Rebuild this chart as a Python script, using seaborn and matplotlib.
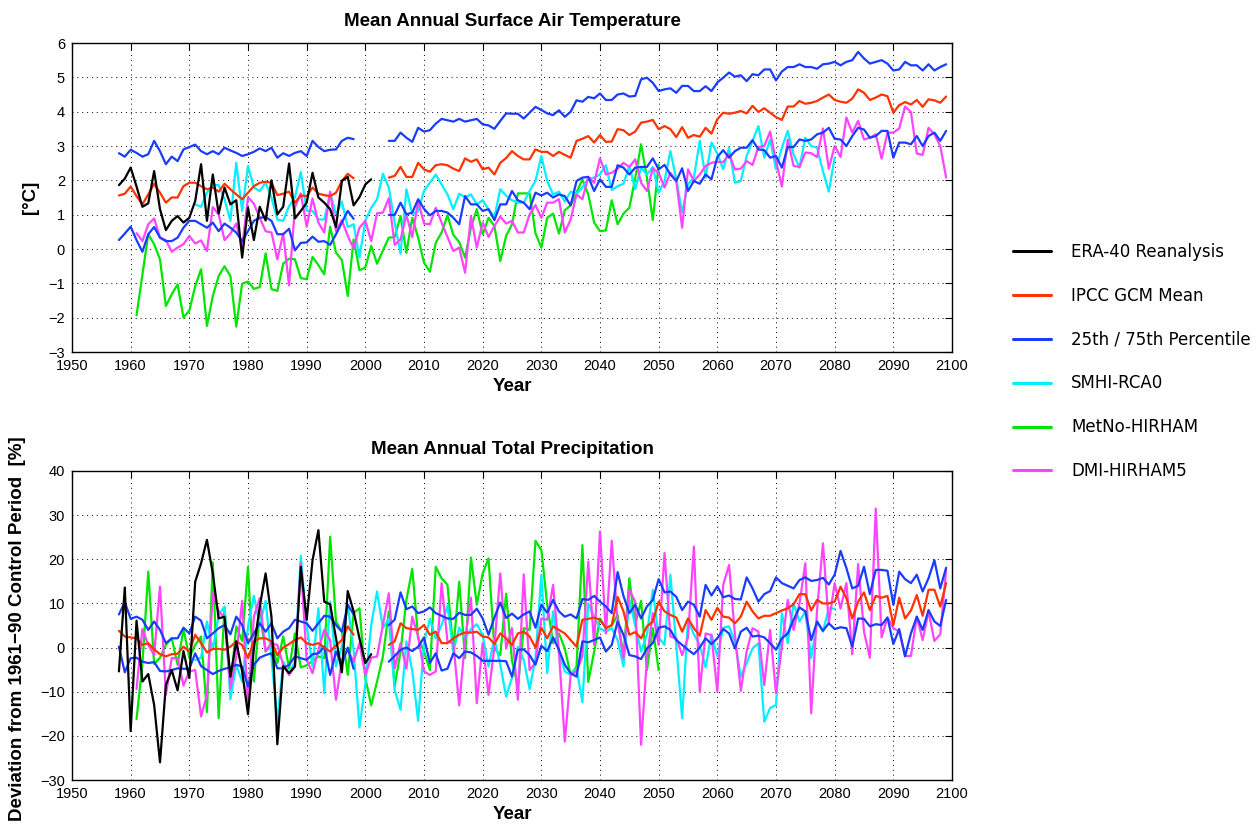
import numpy as np
import pandas as pd
import matplotlib
matplotlib.use("Agg")
import matplotlib.pyplot as plt
from matplotlib.lines import Line2D
import seaborn as sns

# ---------------- data: temperature (°C) ----------------
era_t_start = 1958
era_t = [1.86, 2.05, 2.37, 1.82, 1.23, 1.33, 2.27, 1.16, 0.55, 0.82,
         0.96, 0.77, 0.91, 1.40, 2.47, 0.82, 2.17, 1.03, 1.79, 1.30,
         1.42, -0.25, 1.20, 0.26, 1.23, 0.83, 2.00, 1.01, 1.23, 2.49,
         0.89, 1.11, 1.35, 2.22, 1.50, 1.35, 1.16, 0.64, 1.98, 2.10,
         1.27, 1.51, 1.88, 2.03]

gcm_a_start = 1958   # control period segment
gcm_b_start = 2004   # scenario segment
ipcc_t_a = [1.56, 1.61, 1.82, 1.54, 1.30, 1.59, 1.90, 1.64, 1.35, 1.50,
            1.50, 1.83, 1.93, 1.93, 1.83, 1.74, 1.79, 1.67, 1.90, 1.74,
            1.59, 1.45, 1.64, 1.83, 1.93, 1.96, 1.93, 1.57, 1.61, 1.67,
            1.35, 1.56, 1.54, 1.79, 1.61, 1.57, 1.54, 1.64, 1.98, 2.19, 2.06]
ipcc_t_b = [2.08, 2.13, 2.39, 2.10, 2.10, 2.51, 2.32, 2.25, 2.44, 2.47,
            2.44, 2.34, 2.27, 2.64, 2.54, 2.61, 2.32, 2.37, 2.17, 2.51,
            2.65, 2.85, 2.71, 2.61, 2.61, 2.90, 2.83, 2.83, 2.71, 2.83,
            2.74, 2.66, 3.15, 3.21, 3.29, 3.10, 3.32, 3.12, 3.13, 3.49,
            3.46, 3.32, 3.42, 3.68, 3.71, 3.76, 3.49, 3.58, 3.49, 3.26,
            3.55, 3.24, 3.32, 3.27, 3.53, 3.36, 3.78, 3.97, 3.94, 3.97,
            4.02, 3.95, 4.17, 3.99, 4.10, 3.97, 3.84, 3.76, 4.15, 4.15,
            4.31, 4.23, 4.26, 4.31, 4.41, 4.50, 4.34, 4.29, 4.26, 4.38,
            4.65, 4.55, 4.34, 4.41, 4.50, 4.45, 3.97, 4.19, 4.28, 4.21,
            4.34, 4.14, 4.36, 4.33, 4.26, 4.44]
p75_t_a = [2.79, 2.69, 2.89, 2.80, 2.69, 2.76, 3.15, 2.85, 2.47, 2.69,
           2.56, 2.90, 2.97, 3.04, 2.85, 2.76, 2.85, 2.76, 2.95, 2.87,
           2.80, 2.71, 2.76, 2.83, 2.93, 2.85, 2.95, 2.66, 2.79, 2.71,
           2.80, 2.85, 2.71, 3.15, 2.97, 2.85, 2.89, 2.90, 3.15, 3.24, 3.20]
p75_t_b = [3.15, 3.15, 3.39, 3.24, 3.12, 3.53, 3.42, 3.46, 3.65, 3.79,
           3.75, 3.71, 3.79, 3.71, 3.75, 3.79, 3.63, 3.60, 3.50, 3.73,
           3.95, 3.94, 3.94, 3.80, 3.97, 4.14, 4.05, 3.95, 3.90, 4.04,
           3.85, 4.00, 4.33, 4.29, 4.43, 4.39, 4.53, 4.34, 4.34, 4.50,
           4.53, 4.44, 4.46, 4.94, 4.99, 4.84, 4.60, 4.65, 4.68, 4.55,
           4.75, 4.75, 4.60, 4.60, 4.74, 4.60, 4.85, 4.99, 5.14, 5.02,
           5.06, 4.89, 5.09, 5.06, 5.23, 5.23, 4.91, 5.17, 5.30, 5.30,
           5.38, 5.30, 5.30, 5.25, 5.38, 5.40, 5.45, 5.35, 5.45, 5.50,
           5.74, 5.55, 5.40, 5.45, 5.50, 5.40, 5.20, 5.23, 5.45, 5.35,
           5.35, 5.20, 5.38, 5.20, 5.30, 5.38]
p25_t_a = [0.26, 0.45, 0.65, 0.26, -0.08, 0.43, 0.64, 0.33, 0.23, 0.23,
           0.33, 0.62, 0.82, 0.82, 0.72, 0.62, 0.77, 0.52, 0.74, 0.62,
           0.48, 0.23, 0.52, 0.82, 0.91, 0.93, 0.82, 0.43, 0.43, 0.59,
           -0.04, 0.18, 0.19, 0.36, 0.21, 0.23, 0.12, 0.43, 0.77, 1.11, 0.88]
p25_t_b = [0.99, 0.99, 1.35, 1.01, 1.06, 1.45, 1.17, 0.98, 1.11, 1.11,
           1.06, 0.91, 0.72, 1.54, 1.30, 1.30, 1.11, 1.16, 0.84, 1.30,
           1.30, 1.69, 1.42, 1.35, 1.16, 1.64, 1.56, 1.64, 1.50, 1.59,
           1.54, 1.27, 1.98, 2.08, 2.10, 1.69, 2.03, 1.81, 1.81, 2.44,
           2.37, 2.17, 2.37, 2.39, 2.39, 2.64, 2.32, 2.45, 2.17, 1.98,
           2.35, 1.69, 1.98, 1.90, 2.17, 2.03, 2.68, 2.88, 2.66, 2.85,
           2.95, 2.95, 3.17, 2.90, 2.88, 2.66, 2.71, 2.37, 2.97, 2.97,
           3.19, 3.15, 3.19, 3.34, 3.39, 3.53, 3.21, 3.19, 3.00, 3.29,
           3.53, 3.48, 3.24, 3.29, 3.44, 3.44, 2.66, 3.10, 3.10, 3.05,
           3.29, 3.00, 3.29, 3.39, 3.15, 3.44]

smhi_start = 1971
smhi_t = [1.30, 1.23, 1.64, 1.86, 1.86, 1.45, 0.82, 2.51, 1.11, 2.42,
          1.79, 1.69, 1.93, 1.50, 0.86, 0.82, 1.25, 1.50, 2.24, 1.11,
          1.11, 0.86, 0.86, 1.64, 1.01, 1.38, 0.64, 0.72, -0.25, 0.82,
          1.20, 1.45, 2.19, 1.79, 0.77, -0.14, 1.74, 1.01, 1.11, 1.69,
          1.93, 2.17, 1.88, 1.59, 1.16, 1.61, 1.51, 1.59, 1.30, 1.42,
          1.16, 0.93, 1.74, 1.55, 1.42, 1.35, 1.35, 1.69, 1.98, 2.71,
          1.98, 1.59, 1.67, 1.38, 1.67, 1.61, 1.79, 2.05, 2.08, 2.17,
          2.44, 1.72, 1.83, 1.90, 2.42, 1.74, 2.37, 2.17, 2.39, 1.64,
          1.98, 2.85, 2.03, 1.06, 1.88, 2.08, 3.15, 2.08, 3.10, 2.78,
          2.32, 2.95, 1.93, 1.98, 2.71, 3.15, 3.58, 2.66, 3.19, 2.32,
          2.95, 3.44, 2.76, 2.37, 3.24, 3.00, 2.95, 2.27, 1.67, 2.66]

metno_start = 1961
metno_t = [-1.93, -0.75, 0.43, 0.14, -0.30, -1.66, -1.32, -1.03, -2.00, -1.79,
           -1.08, -0.59, -2.24, -1.37, -0.79, -0.50, -0.79, -2.26, -1.01, -0.95,
           -1.16, -1.11, -0.13, -1.17, -1.22, -0.43, -0.28, -0.30, -0.85, -0.88,
           -0.23, -0.47, -0.74, 0.65, -0.11, -0.32, -1.37, 0.28, -0.62, -0.54,
           0.09, -0.43, -0.04, 0.33, 0.35, 0.96, -0.11, 0.91, 0.33, -0.40,
           -0.66, 0.18, 0.48, 0.98, 0.41, 0.20, -0.25, 0.62, 1.16, 0.43,
           0.91, 0.67, -0.35, 0.38, 0.72, 1.62, 1.62, 1.62, 0.46, 0.04,
           0.91, 1.03, 0.45, 1.13, 1.27, 1.64, 2.03, 1.59, 0.77, 0.52,
           0.54, 1.42, 0.72, 1.03, 1.20, 2.06, 3.05, 2.08, 0.84, 2.47]

dmi_start = 1961
dmi_t = [0.46, 0.23, 0.72, 0.89, 0.33, 0.26, -0.08, 0.04, 0.14, 0.38,
         0.16, 0.25, -0.06, 1.22, 1.01, 0.26, 0.45, 0.74, 0.04, 1.51,
         1.32, 0.91, 0.52, 0.48, -0.30, 0.45, -1.06, 1.22, 1.62, 0.65,
         1.47, 0.77, 0.48, 1.67, 0.52, 0.84, 0.38, 0.02, 0.62, 0.82,
         0.23, 1.04, 1.06, 1.48, 0.12, 0.28, 0.99, 0.35, 1.40, 0.74,
         0.72, 1.20, 0.77, 0.35, -0.06, 0.04, -0.69, 0.96, 0.04, 0.77,
         0.35, 0.67, 0.94, 0.74, 0.82, 0.48, 0.48, 1.01, 1.28, 0.91,
         1.35, 1.35, 1.45, 0.48, 0.86, 1.59, 1.45, 2.10, 1.93, 2.64,
         2.17, 2.22, 2.34, 2.51, 2.39, 2.61, 1.93, 1.69, 2.35, 2.22,
         1.79, 2.22, 1.98, 0.62, 2.32, 1.98, 2.17, 2.42, 2.51, 2.54,
         2.53, 2.76, 2.32, 2.34, 2.56, 2.45, 2.97, 3.00, 3.42, 2.56,
         1.82, 3.19, 2.42, 2.39, 2.81, 2.79, 2.68, 3.51, 2.34, 3.00,
         2.68, 3.83, 3.39, 3.73, 3.19, 3.24, 3.34, 2.63, 3.39, 3.39,
         3.51, 4.15, 3.99, 2.78, 2.74, 3.53, 3.34, 3.00, 2.08]

# ---------------- data: precipitation (% deviation) ----------------
era_p = [-5.4, 13.6, -18.9, 6.1, -7.7, -6.0, -13.0, -26.0, -8.5, -5.1,
         -9.7, -0.8, -6.9, 14.9, 19.1, 24.4, 16.8, 6.6, 7.0, -6.6,
         1.4, -5.4, -15.1, -0.2, 9.3, 16.8, 7.0, -21.9, -4.2, -5.8,
         -4.3, 18.3, 6.3, 19.8, 26.6, 10.4, 9.8, 2.1, -5.6, 12.8,
         8.2, 2.1, -3.5, -1.5]

ipcc_p_a = [3.8, 2.5, 2.3, 2.1, 0.6, 1.0, -0.4, -1.5, -2.0, -1.5,
            -1.4, 0.2, -0.9, 2.9, 1.0, -1.1, -0.3, -0.3, -0.5, 0.2,
            1.4, 0.6, -2.4, 1.4, 2.1, 2.1, 1.4, -1.7, 0.0, 0.8,
            1.7, 2.3, 1.0, 0.6, 1.0, 0.0, -0.9, 0.5, 1.7, 4.8, 2.9]
ipcc_p_b = [0.6, 1.4, 5.5, 4.4, 4.2, 4.0, 5.1, 2.9, 3.6, 1.0,
            1.0, 2.1, 2.9, 3.4, 3.4, 3.6, 2.5, 2.3, 0.8, 3.2,
            2.1, 0.6, 3.2, 3.6, 2.5, 0.0, 4.5, 2.1, 4.8, 4.0,
            3.2, 1.7, 0.2, 6.3, 6.5, 6.8, 6.3, 4.4, 5.1, 11.5,
            8.2, 2.9, 3.5, 2.1, 4.8, 5.9, 10.4, 8.2, 7.4, 6.8,
            3.6, 6.6, 4.4, 2.7, 8.5, 6.3, 9.0, 7.0, 6.8, 5.5,
            7.0, 10.4, 8.2, 6.6, 7.2, 7.2, 7.8, 8.4, 8.9, 9.8,
            12.1, 12.1, 8.4, 10.8, 10.0, 10.0, 10.4, 13.8, 11.2, 6.6,
            10.4, 12.5, 8.5, 11.7, 11.3, 11.7, 5.1, 11.3, 6.6, 8.4,
            11.9, 7.2, 13.1, 13.1, 9.3, 14.6]
p75_p_a = [7.5, 10.3, 6.5, 7.0, 6.3, 4.0, 5.9, 4.0, 1.0, 2.1,
           2.1, 4.5, 3.2, 7.0, 6.1, 2.1, 3.2, 4.4, 5.1, 3.0,
           7.0, 5.1, 1.0, 3.2, 5.5, 3.6, 5.5, 2.1, 3.6, 4.4,
           6.3, 5.9, 5.5, 3.8, 5.5, 7.2, 7.0, 5.1, 3.6, 9.7, 7.5]
p75_p_b = [5.1, 6.3, 12.5, 8.7, 9.3, 7.8, 8.2, 9.1, 7.8, 7.2,
           6.6, 6.5, 7.9, 7.4, 7.4, 8.8, 6.6, 2.9, 6.8, 10.2,
           6.7, 7.7, 6.5, 7.5, 8.2, 4.5, 9.7, 7.9, 10.8, 8.2,
           7.0, 7.5, 6.6, 11.0, 10.8, 11.7, 10.4, 9.3, 7.8, 17.1,
           11.7, 7.8, 9.7, 6.6, 9.3, 10.8, 15.5, 12.5, 12.7, 11.5,
           8.5, 10.4, 9.7, 7.0, 14.2, 11.8, 13.9, 11.4, 11.8, 11.0,
           10.9, 15.9, 13.4, 10.4, 12.1, 12.8, 15.9, 14.6, 14.0, 13.4,
           15.3, 15.9, 15.1, 15.3, 15.8, 14.3, 16.5, 21.9, 18.0, 13.4,
           14.0, 18.3, 12.1, 17.6, 17.6, 17.4, 9.7, 17.2, 15.5, 14.6,
           16.5, 12.7, 15.7, 19.8, 13.4, 18.1]
p25_p_a = [0.2, -5.6, -2.4, -2.3, -3.2, -3.5, -3.3, -5.3, -5.4, -5.1,
           -4.7, -4.8, -4.8, -1.3, -4.2, -5.1, -6.0, -5.3, -4.8, -4.5,
           -3.9, -4.3, -8.8, -3.9, -2.3, -1.7, -1.3, -4.7, -4.7, -3.9,
           -2.0, -2.4, -2.8, -1.5, -1.3, 0.2, -6.2, -0.9, -3.9, 0.0, -4.8]
p25_p_b = [-3.2, -1.9, -0.5, 0.0, -0.8, 0.2, 2.3, -3.5, -1.3, -5.2,
           -4.8, -1.3, -2.4, -0.9, -1.1, -1.9, -3.0, -3.0, -3.0, -3.0,
           -3.1, -6.6, -0.5, -0.4, -1.7, -3.9, 0.4, -0.8, 2.3, -0.5,
           -3.9, -5.8, -6.6, 1.4, 1.2, 1.7, 2.3, -0.9, 0.6, 5.9,
           2.9, -1.7, -2.0, -2.6, -0.2, 1.0, 4.5, 4.8, 4.0, 1.7,
           0.6, -0.5, -1.5, 0.0, 2.1, 0.8, 2.1, 4.2, 3.2, -0.2,
           3.6, 4.5, 2.5, 2.7, 2.3, 1.0, -0.5, 2.1, 3.2, 6.3,
           9.1, 8.2, 1.7, 5.9, 3.8, 5.5, 4.2, 4.6, 4.4, 0.2,
           6.6, 6.5, 4.8, 5.3, 5.1, 6.8, 0.8, 4.2, -2.0, 3.2,
           7.0, 4.0, 8.5, 5.9, 4.9, 10.8]

smhi_p = [-2.8, -2.3, 5.9, -0.5, 7.4, 9.3, -11.7, -3.9, -7.7, 4.8,
          11.7, 5.1, 10.6, -2.4, -16.8, -3.2, -5.8, -3.2, 20.8, 5.0,
          -4.3, 8.9, -10.3, 10.4, -4.3, 0.2, 9.7, -0.5, -18.1, -8.3,
          5.1, 12.7, 4.4, 6.6, -9.6, -14.1, 1.4, -5.3, -16.6, 1.0,
          6.5, 2.1, 5.1, 9.5, -0.9, 4.5, 2.1, 4.2, 5.3, 2.9,
          -4.3, 2.1, -3.9, -11.1, -6.8, 0.2, -2.8, -9.4, -2.4, 16.5,
          -5.8, 8.2, -1.3, -5.4, -6.2, -4.7, -12.4, 10.0, 7.0, 4.4,
          3.6, 4.4, 1.7, -4.3, 10.8, 5.1, -0.9, 2.9, 13.1, 2.3,
          0.6, 16.5, 0.6, -16.0, 6.3, 3.0, 0.6, -4.5, 3.0, -2.0,
          4.5, 4.8, 1.4, -6.6, -3.5, -0.2, 1.0, -16.8, -13.7, -13.0,
          7.8, 1.0, 10.0, 5.9, 8.2, -2.4, 5.9, 3.6, 8.9, 8.8]

metno_p = [-16.2, -3.8, 17.2, -3.7, -2.3, 0.6, 2.1, -3.9, 4.2, -2.3,
           0.6, 2.5, -14.6, 19.3, -16.0, 9.1, -9.1, 4.8, 1.5, 18.3,
           -7.7, 7.8, -0.9, 0.6, -3.5, 2.5, -4.7, 3.2, -4.5, -4.0,
           -3.0, -2.0, -2.4, 25.1, 5.9, 3.6, -6.2, 7.8, 8.9, -6.9,
           -13.1, -7.7, -2.0, 8.2, -8.8, -0.9, 10.8, 17.8, 2.1, -0.9,
           -5.1, 18.3, 15.7, 14.2, -0.5, 14.9, -2.4, 20.4, 9.7, 16.8,
           20.2, -0.2, -1.7, 12.2, -3.0, -8.8, 4.4, 4.0, 24.2, 22.1,
           9.7, 1.0, 3.2, -0.2, -6.2, -4.3, 23.2, -7.8, -0.9, 6.6,
           4.4, 5.0, 7.4, -2.4, 15.7, 5.1, 10.6, -5.1, 4.4, -5.1]

dmi_p = [-9.4, 4.2, 0.6, -1.7, 13.8, -10.7, -2.4, -2.4, -8.6, -5.4,
         -5.1, -15.6, -10.7, 12.3, 8.2, 6.8, -9.2, -2.0, 10.6, -13.0,
         7.0, 11.2, -0.8, 1.0, 0.6, -3.9, -6.2, -4.3, 19.1, -2.8,
         -5.8, -0.5, 4.0, 1.7, -11.8, -2.8, -0.5, -3.2, 1.0, -6.2,
         -2.3, -2.0, 5.1, 12.3, -4.7, 1.0, -4.8, 7.0, 2.5, -5.4,
         -6.2, -5.4, 14.6, 1.4, 1.0, -13.1, 1.7, 11.3, -12.6, 1.0,
         -10.7, 0.2, 16.8, -0.2, 4.4, -11.8, 16.6, -5.1, -3.5, 6.6,
         6.3, 14.2, -0.9, -21.3, -6.2, -5.4, -2.0, 19.5, 0.6, 26.3,
         3.2, 24.2, 5.9, -2.4, 13.1, 10.4, -22.0, -2.4, 7.8, 0.6,
         21.4, 2.5, 2.1, -1.7, 2.3, 22.9, -10.0, 3.2, 2.8, -10.0,
         14.2, 18.7, 2.9, -9.8, -0.9, 4.4, 3.6, -8.5, 4.0, -10.3,
         0.2, 10.8, 4.0, 10.0, 19.1, -14.9, 8.5, 23.6, 5.5, 14.6,
         8.8, 14.6, -1.5, 18.9, 3.6, -2.3, 31.5, 2.3, 6.8, 4.4,
         3.6, -1.9, -1.9, 7.0, 1.7, 8.2, 1.5, 3.0, 17.6]

labels = ["ERA-40 Reanalysis", "IPCC GCM Mean", "25th / 75th Percentile",
          "SMHI-RCA0", "MetNo-HIRHAM", "DMI-HIRHAM5"]
colors = ["#000000", "#ff3300", "#1a3cff", "#00f0ff", "#00e600", "#ff44ff"]
xticks = list(range(1950, 2101, 10))


def segments(temp):
    """(series label, start year, values) for each drawn line segment."""
    if temp:
        return [
            (labels[4], metno_start, metno_t),
            (labels[3], smhi_start, smhi_t),
            (labels[5], dmi_start, dmi_t),
            (labels[2], gcm_a_start, p75_t_a), (labels[2], gcm_b_start, p75_t_b),
            (labels[2], gcm_a_start, p25_t_a), (labels[2], gcm_b_start, p25_t_b),
            (labels[1], gcm_a_start, ipcc_t_a), (labels[1], gcm_b_start, ipcc_t_b),
            (labels[0], era_t_start, era_t),
        ]
    return [
        (labels[4], metno_start, metno_p),
        (labels[3], smhi_start, smhi_p),
        (labels[5], dmi_start, dmi_p),
        (labels[2], gcm_a_start, p75_p_a), (labels[2], gcm_b_start, p75_p_b),
        (labels[2], gcm_a_start, p25_p_a), (labels[2], gcm_b_start, p25_p_b),
        (labels[1], gcm_a_start, ipcc_p_a), (labels[1], gcm_b_start, ipcc_p_b),
        (labels[0], era_t_start, era_p),
    ]


sns.set_theme(style="white")
plt.rcParams["font.family"] = ["Liberation Sans", "DejaVu Sans"]
plt.rcParams.update({
    "axes.linewidth": 1.0,
    "text.color": "black",
    "axes.labelcolor": "black",
    "xtick.color": "black",
    "ytick.color": "black",
    "axes.edgecolor": "black",
})

fig = plt.figure(figsize=(12.6, 8.25), dpi=100)
W, H = 1260.0, 825.0
ax1 = fig.add_axes([72 / W, 1 - 352 / H, 880 / W, 309 / H])
ax2 = fig.add_axes([72 / W, 1 - 780 / H, 880 / W, 309 / H])

cmap = dict(zip(labels, colors))
for ax, temp in ((ax1, True), (ax2, False)):
    for k, (name, start, vals) in enumerate(segments(temp)):
        yrs = np.arange(start, start + len(vals))
        df = pd.DataFrame({"Year": yrs, "v": vals})
        sns.lineplot(data=df, x="Year", y="v", color=cmap[name], lw=1.6,
                     ax=ax, legend=False, estimator=None, sort=False)

titlefont = dict(family=["Liberation Sans Narrow", "Liberation Sans"],
                 fontweight="bold", fontsize=13.5, color="black")
for ax in (ax1, ax2):
    ax.set_xlim(1950, 2100)
    ax.set_xticks(xticks)
    ax.grid(True, color="black", linestyle=(0, (1, 4)), linewidth=0.7)
    ax.tick_params(direction="in", top=True, right=True, length=5,
                   width=0.8, labelsize=10.5, color="black",
                   labelcolor="black", pad=5)
    for s in ax.spines.values():
        s.set_color("black")
        s.set_visible(True)
    ax.set_xlabel("Year", **titlefont)
    ax.xaxis.set_label_coords(0.5, -0.085)

ax1.set_ylim(-3, 6)
ax1.set_yticks(list(range(-3, 7)))
ax1.set_title("Mean Annual Surface Air Temperature", pad=12, **titlefont)
ax1.set_ylabel("[°C]", **titlefont)
ax1.yaxis.set_label_coords(-0.038, 0.5)

ax2.set_ylim(-30, 40)
ax2.set_yticks(list(range(-30, 41, 10)))
ax2.set_title("Mean Annual Total Precipitation", pad=12, **titlefont)
ax2.set_ylabel("Deviation from 1961\u221290 Control Period  [%]", **titlefont)
ax2.yaxis.set_label_coords(-0.052, 0.49)

handles = [Line2D([], [], color=c, lw=2.2) for c in colors]
fig.legend(handles, labels, loc="upper left", bbox_to_anchor=(998 / W, 1 - 228 / H),
           frameon=False, prop={"family": "DejaVu Sans", "size": 12},
           labelcolor="black",
           handlelength=2.3, handletextpad=1.2, labelspacing=1.55, borderpad=0.4)

fig.savefig("out.png", dpi=100)
